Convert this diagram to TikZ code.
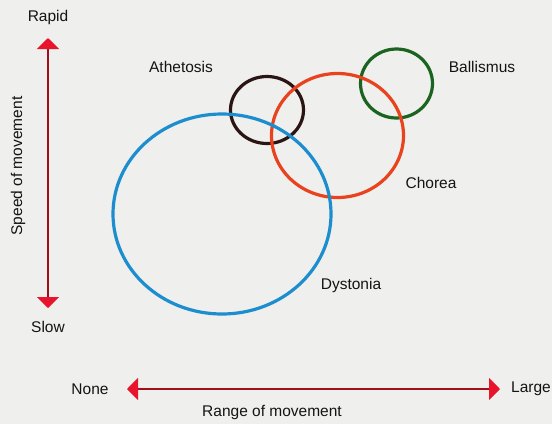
\documentclass[tikz,border=0pt]{standalone}
\usepackage{fontspec}
\setmainfont{Liberation Sans}
\usetikzlibrary{arrows.meta}
\definecolor{bgc}{HTML}{EFEFED}
\definecolor{axisline}{HTML}{A0101A}
\definecolor{axishead}{HTML}{E8142C}
\definecolor{cblue}{HTML}{1C8ED0}
\definecolor{cred}{HTML}{E8421E}
\definecolor{cblack}{HTML}{2A1414}
\definecolor{cgreen}{HTML}{1A6420}
\tikzset{
  axisarrow/.style={draw=axisline, line width=1.8pt,
    {Triangle[width=22pt,length=11pt,fill=axishead,color=axishead]}-{Triangle[width=22pt,length=11pt,fill=axishead,color=axishead]}},
  lbl/.style={font=\fontsize{15.5}{18}\selectfont, text=black!92, inner sep=0pt},
  ring/.style={line width=3.2pt}
}
\begin{document}
\begin{tikzpicture}[x=1pt,y=-1pt]
\fill[bgc] (0,0) rectangle (552,424);
\useasboundingbox (0,0) rectangle (552,424);
% axes
\coordinate (vtop) at (48,38);
\coordinate (vbot) at (48,308);
\coordinate (hl) at (127,389);
\coordinate (hr) at (500,389);
\draw[axisarrow] (vtop) -- (vbot);
\draw[axisarrow] (hl) -- (hr);
\node[lbl] (rapid) at (48,17) {Rapid};
\node[lbl] (slow) at (48,327) {Slow};
\node[lbl, rotate=90] (speed) at (18,166) {Speed of movement};
\node[lbl] (none) at (90,389) {None};
\node[lbl] (large) at (531,389) {Large};
\node[lbl] (range) at (272,412) {Range of movement};
% circles
\draw[ring, cgreen] (396.5,83.5) ellipse (36 and 34.5);
\draw[ring, cblack] (267,110) ellipse (36.5 and 33.5);
\draw[ring, cred] (337.5,135.5) ellipse (66 and 62);
\draw[ring, cblue] (222,214) ellipse (109 and 100);
% labels
\node[lbl] (athetosis) at (181,67) {Athetosis};
\node[lbl] (ballismus) at (482,67) {Ballismus};
\node[lbl] (chorea) at (431,183) {Chorea};
\node[lbl] (dystonia) at (351,285) {Dystonia};
\end{tikzpicture}
\end{document}
